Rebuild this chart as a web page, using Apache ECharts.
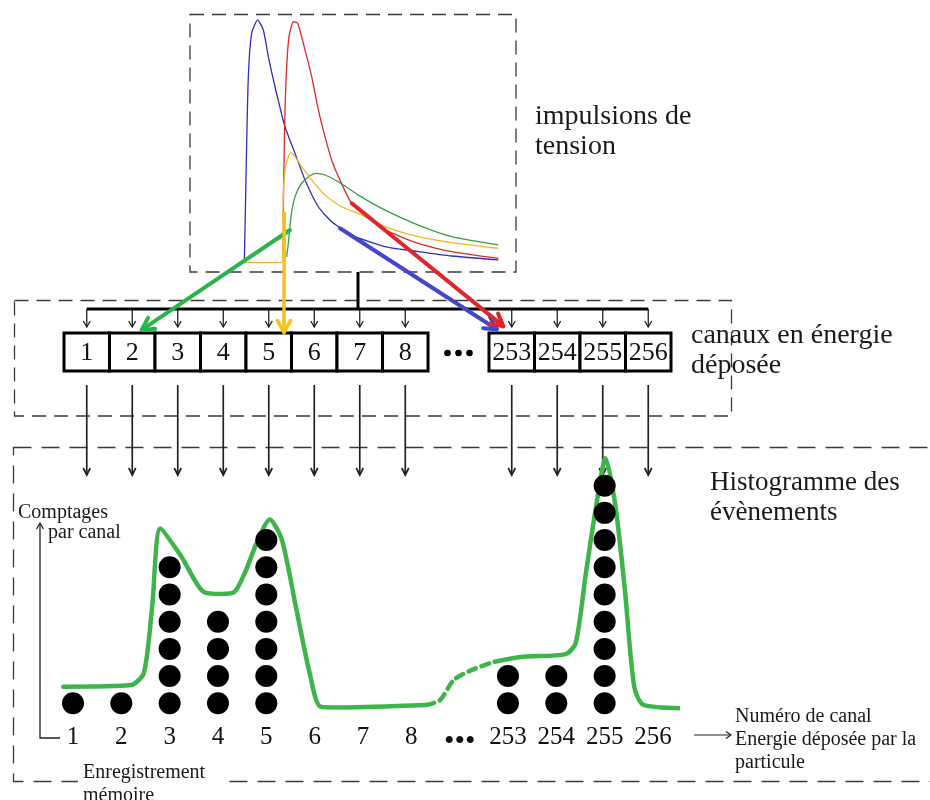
<!DOCTYPE html>
<html><head><meta charset="utf-8">
<script src="https://cdn.jsdelivr.net/npm/echarts@6/dist/echarts.min.js"></script>
<style>html,body{margin:0;padding:0;background:#fff}#main{width:930px;height:800px}</style>
</head><body><div id="main"></div>
<script>
// ---------- DATA ----------
// voltage pulses: [time (a.u.), amplitude (a.u.)]
const pulseBlue = [[16.36,3.6],[16.67,4.7],[17.18,37.0],[17.89,75.7],[18.92,92.5],[20.76,97.7],[22.49,93.8],[24.03,83.5],[26.07,71.8],[29.14,56.3],[32.21,46.0],[35.28,35.7],[39.37,25.3],[43.46,19.5],[49.59,14.3],[59.82,9.8],[70.04,7.9],[80.27,6.2],[94.58,4.7]];
const pulseRed = [[28.6,20.0],[28.73,34.4],[28.94,49.9],[29.14,62.8],[29.65,79.6],[30.37,91.2],[31.70,97.0],[33.03,96.4],[34.76,88.6],[37.32,75.7],[39.37,62.8],[41.41,52.5],[43.46,43.4],[45.50,37.0],[49.59,26.6],[54.70,20.8],[59.82,16.3],[70.04,11.1],[80.27,7.9],[94.58,5.3]];
const pulseYellow = [[16.36,3.6],[28.12,3.6],[28.43,11.1],[28.63,30.5],[29.14,39.5],[30.16,44.7],[30.98,46.3],[32.21,44.7],[34.25,40.8],[37.32,35.7],[41.41,29.8],[46.52,25.3],[51.64,22.7],[59.82,17.6],[70.04,13.7],[80.27,11.4],[94.58,9.2]];
const pulseGreen = [[29.65,5.9],[30.16,11.1],[30.98,21.4],[32.21,29.2],[34.25,34.4],[36.81,37.3],[38.85,38.2],[41.41,37.6],[45.50,35.0],[51.64,29.8],[59.82,24.0],[70.04,18.2],[80.27,13.7],[94.58,10.5]];

// channel boxes
const channelLabels = ['1','2','3','4','5','6','7','8','253','254','255','256'];

// pulse -> channel arrows: start on pulse [time, amplitude], target [channel slot, box level]
const arrowStartGreen = [30.67,16.28];   const arrowEndGreen = [1.708,1.08];
const arrowStartYellow = [28.93,22.75];  const arrowEndYellow = [4.835,1.01];
const arrowStartBlue = [46.01,16.94];    const arrowEndBlue = [9.51,1.10];
const arrowStartRed = [49.60,26.63];     const arrowEndRed = [9.655,1.18];

// histogram
const histCategories = ['1','2','3','4','5','6','7','8','•••','253','254','255','256'];
const histCounts = [1,1,6,4,7,0,0,0,0,2,2,9,0];
// hand-drawn envelope: [channel position, counts]
const envelopeSolidA = [[-0.202,1.61],[1.191,1.67],[1.465,2.11],[1.638,4.55],[1.809,7.43],[2.243,6.39],[2.698,5.10],[3.070,5.02],[3.345,5.10],[3.552,5.78],[3.826,7.00],[4.071,7.76],[4.324,7.00],[4.611,4.55],[4.898,2.10],[5.120,0.88],[5.575,0.85],[7.313,0.94]];
const envelopeDashed = [[7.313,0.94],[7.596,1.12],[7.879,1.86],[8.243,2.22],[8.722,2.53]];
const envelopeSolidB = [[8.722,2.53],[9.314,2.71],[10.190,2.81],[10.401,3.21],[10.612,5.78],[10.823,8.23],[11.019,10.01],[11.225,8.23],[11.419,5.17],[11.612,1.61],[11.806,0.94],[12.744,0.82]];

// ---------- LAYOUT / STYLE ----------
const SERIF = '"Liberation Serif", "Times New Roman", serif';
const GAP = 1.34; // width of the "..." gap, in box widths
const boxSlots = channelLabels.map((_, i) => i < 8 ? i : i + GAP);

function head(tip, from, len, half, style) {
  const dx = tip[0] - from[0], dy = tip[1] - from[1];
  const L = Math.hypot(dx, dy) || 1; const ux = dx / L, uy = dy / L;
  const bx = tip[0] - ux * len, by = tip[1] - uy * len;
  return {type: 'polyline', shape: {points: [[bx - uy * half, by + ux * half], tip, [bx + uy * half, by - ux * half]]}, style: style};
}

function renderBox(params, api) {
  const s = api.value(0);
  const tl = api.coord([s, 1]);
  const br = api.coord([s + 1, 0]);
  const cx = (tl[0] + br[0]) / 2;
  const thin = {stroke: '#222', lineWidth: 1.3, fill: null};
  const longS = {stroke: '#222', lineWidth: 1.7, fill: null};
  return {type: 'group', children: [
    {type: 'rect', shape: {x: tl[0], y: tl[1], width: br[0] - tl[0], height: br[1] - tl[1]}, style: {fill: '#fff', stroke: '#000', lineWidth: 3}},
    {type: 'text', x: cx, y: (tl[1] + br[1]) / 2 + 1, style: {text: channelLabels[params.dataIndex], font: '26px ' + SERIF, fill: '#111', align: 'center', verticalAlign: 'middle'}},
    {type: 'line', shape: {x1: cx, y1: tl[1] - 24, x2: cx, y2: tl[1] - 6}, style: thin},
    head([cx, tl[1] - 6], [cx, tl[1] - 24], 6, 3.5, thin),
    {type: 'line', shape: {x1: cx, y1: br[1] + 14, x2: cx, y2: br[1] + 104}, style: longS},
    head([cx, br[1] + 104], [cx, br[1] + 14], 7, 3.5, longS)
  ]};
}

const dots = [];
histCounts.forEach((c, i) => { for (let k = 1; k <= c; k++) dots.push([i, k]); });

const pulseLine = (data, color) => ({type: 'line', xAxisIndex: 0, yAxisIndex: 0, data: data, showSymbol: false, smooth: 0.2, silent: true, lineStyle: {color: color, width: 1.3}, z: 3});
const envLine = (data, dashed) => ({type: 'line', xAxisIndex: 3, yAxisIndex: 2, data: data, showSymbol: false, smooth: 0.25, silent: true, lineStyle: {color: '#3db54a', width: 4.5, type: dashed ? [8, 6] : 'solid', cap: 'round'}, z: 3});

const option = {
  animation: false,
  backgroundColor: '#fff',
  grid: [
    {left: 190, top: 14, width: 326, height: 258},
    {left: 64, top: 333, width: 607, height: 38},
    {left: 48.83, top: 450.3, width: 628.3, height: 280.2}
  ],
  xAxis: [
    {gridIndex: 0, type: 'value', min: 0, max: 100, show: false},
    {gridIndex: 1, type: 'value', min: 0, max: 13.34, show: false},
    {gridIndex: 2, type: 'category', data: histCategories, axisLine: {show: false}, axisTick: {show: false}, splitLine: {show: false},
      axisLabel: {interval: 0, margin: 7, color: '#111', fontSize: 25, fontFamily: SERIF, verticalAlign: 'middle',
        formatter: (v) => v === '•••' ? '{d|•••}' : v, rich: {d: {fontSize: 30, fontFamily: SERIF, color: '#111', padding: [10, 0, 0, 0]}}}},
    {gridIndex: 2, type: 'value', min: -0.5, max: 12.5, show: false}
  ],
  yAxis: [
    {gridIndex: 0, type: 'value', min: 0, max: 100, show: false},
    {gridIndex: 1, type: 'value', min: 0, max: 1, show: false},
    {gridIndex: 2, type: 'value', min: 0, max: 10.3, show: false}
  ],
  series: [
    pulseLine(pulseBlue, '#2f2fbf'),
    pulseLine(pulseRed, '#d92b2b'),
    pulseLine(pulseGreen, '#3a9e46'),
    pulseLine(pulseYellow, '#f2b71e'),
    {type: 'custom', xAxisIndex: 1, yAxisIndex: 1, clip: false, silent: true, renderItem: renderBox,
      data: boxSlots.map((s) => [s, 0]), encode: {x: 0, y: 1}, z: 2},
    envLine(envelopeSolidA, false),
    envLine(envelopeDashed, true),
    envLine(envelopeSolidB, false),
    {type: 'scatter', xAxisIndex: 2, yAxisIndex: 2, data: dots, symbolSize: 22, silent: true, itemStyle: {color: '#000', opacity: 1}, z: 5}
  ]
};

const chart = echarts.init(document.getElementById('main'), null, {renderer: 'canvas'});
chart.setOption(option);

// ---------- annotations derived from the axes ----------
const P0 = (p) => chart.convertToPixel({xAxisIndex: 0, yAxisIndex: 0}, p);
const P1 = (p) => chart.convertToPixel({xAxisIndex: 1, yAxisIndex: 1}, p);
const g = [];
const dash = (x, y, w, h, d) => ({type: 'rect', z: 1, shape: {x: x, y: y, width: w, height: h}, style: {fill: null, stroke: '#3a3a3a', lineWidth: 1.3, lineDash: d}});
g.push(dash(190, 14.5, 326, 257.5, [14, 8]));
g.push(dash(14.5, 300.5, 717, 115.5, [14, 8]));
g.push(dash(13.5, 447.5, 930, 334, [18, 10]));

// bus
const busY = P1([0, 1])[1] - 24;
const firstC = P1([boxSlots[0] + 0.5, 1])[0];
const lastC = P1([boxSlots[boxSlots.length - 1] + 0.5, 1])[0];
g.push({type: 'line', z: 6, shape: {x1: firstC, y1: busY, x2: lastC, y2: busY}, style: {stroke: '#000', lineWidth: 3}});
g.push({type: 'line', z: 6, shape: {x1: 358, y1: 272, x2: 358, y2: busY}, style: {stroke: '#000', lineWidth: 3}});

// middle ellipsis
const gapC = P1([8 + GAP / 2, 0.5]);
[-11, 0, 11].forEach((dx) => g.push({type: 'circle', z: 6, shape: {cx: gapC[0] + dx, cy: gapC[1] + 1, r: 3.3}, style: {fill: '#000'}}));

// thick colored arrows
function thick(start, end, color, w) {
  const a = P0(start), b = P1(end);
  const st = {stroke: color, lineWidth: w, fill: null, lineCap: 'round', lineJoin: 'round'};
  g.push({type: 'line', z: 8, shape: {x1: a[0], y1: a[1], x2: b[0], y2: b[1]}, style: st});
  g.push(Object.assign(head(b, a, 12, 6.5, st), {z: 8}));
}
thick(arrowStartGreen, arrowEndGreen, '#2db34c', 4);
thick(arrowStartYellow, arrowEndYellow, '#f5c21b', 3.5);
thick(arrowStartBlue, arrowEndBlue, '#4646cc', 4);
thick(arrowStartRed, arrowEndRed, '#e0262a', 4);

// texts
const txt = (s, x, y, size) => ({type: 'text', z: 9, x: x, y: y + 3, style: {text: s, font: size + 'px ' + SERIF, fill: '#1a1a1a', align: 'left', verticalAlign: 'middle'}});
g.push(txt('impulsions de', 535, 114, 28));
g.push(txt('tension', 535, 144, 28));
g.push(txt('canaux en énergie', 691, 332.5, 28));
g.push(txt('déposée', 691, 363, 28));
g.push(txt('Histogramme des', 710, 479.5, 27));
g.push(txt('évènements', 710, 509.5, 27));
g.push(txt('Comptages', 18, 510, 20));
g.push(txt('par canal', 48, 530, 20));
g.push(txt('Numéro de canal', 735, 713.5, 20));
g.push(txt('Energie déposée par la', 735, 737, 20));
g.push(txt('particule', 735, 760, 20));
g.push({type: 'rect', z: 8, shape: {x: 78, y: 760, width: 142, height: 40}, style: {fill: '#fff'}});
g.push(txt('Enregistrement', 83, 770, 20));
g.push(txt('mémoire', 83, 792.5, 20));

// y axis (L) with arrow
const ax = {stroke: '#222', lineWidth: 1.3, fill: null};
g.push({type: 'polyline', z: 6, shape: {points: [[40, 524], [40, 738], [60, 738]]}, style: ax});
g.push(Object.assign(head([40, 523], [40, 540], 6, 3.5, ax), {z: 6}));
// x direction arrow
g.push({type: 'line', z: 6, shape: {x1: 694, y1: 735, x2: 731, y2: 735}, style: {stroke: '#222', lineWidth: 1.2}});
g.push(Object.assign(head([731, 735], [694, 735], 5, 3.5, {stroke: '#222', lineWidth: 1.2, fill: null}), {z: 6}));

chart.setOption({graphic: g});
</script></body></html>
